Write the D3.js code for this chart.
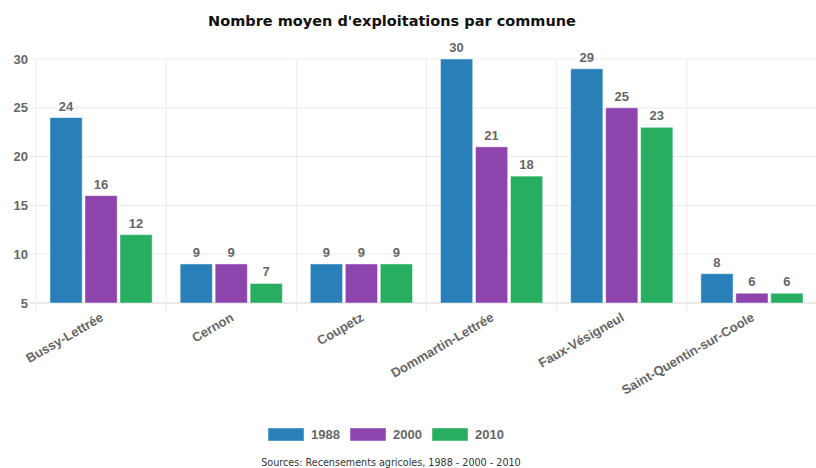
<!DOCTYPE html>
<html>
<head>
<meta charset="utf-8">
<script src="https://cdn.jsdelivr.net/npm/d3@7"></script>
<style>
  html, body { margin: 0; padding: 0; background: #fff; }
  svg { display: block; }
</style>
</head>
<body>
<svg id="chart" width="816" height="468"></svg>
<script>
// Communes shown on the x axis
const communes = ["Bussy-Lettrée", "Cernon", "Coupetz", "Dommartin-Lettrée", "Faux-Vésigneul", "Saint-Quentin-sur-Coole"];
// Census years (one bar per year in each group)
const years = ["1988", "2000", "2010"];
// Average number of farms per commune, per census
const values1988 = [24, 9, 9, 30, 29, 8];
const values2000 = [16, 9, 9, 21, 25, 6];
const values2010 = [12, 7, 9, 18, 23, 6];
const yTicks = [5, 10, 15, 20, 25, 30];
const colors = ["#2980b9", "#8e44ad", "#27ae60"];

const series = [values1988, values2000, values2010];
const rows = communes.map((c, i) => ({ commune: c, vals: series.map(s => s[i]) }));

const svg = d3.select("#chart");
const plotLeft = 36, plotRight = 817, plotTop = 59, plotBottom = 303;

const x = d3.scaleBand().domain(communes).range([plotLeft, plotRight]).paddingInner(0).paddingOuter(0);
const xIn = d3.scaleBand().domain(years).range([14, x.bandwidth() - 14]).paddingInner(0.08);
const y = d3.scaleLinear().domain([5, 30]).range([plotBottom, plotTop]);

const grey = "#666";
const labelFont = "Liberation Sans, Arial, sans-serif";

// Title
svg.append("text")
  .attr("x", 392).attr("y", 26)
  .attr("text-anchor", "middle")
  .attr("font-family", "DejaVu Sans, Verdana, sans-serif")
  .attr("font-weight", "bold")
  .attr("font-size", 14.5)
  .attr("fill", "#111")
  .text("Nombre moyen d'exploitations par commune");

// Horizontal grid lines (with small tick extending left)
svg.append("g").selectAll("line").data(yTicks).join("line")
  .attr("x1", plotLeft - 6).attr("x2", plotRight)
  .attr("y1", d => y(d)).attr("y2", d => y(d))
  .attr("stroke", d => d === 5 ? "#d4d4d4" : "#ececec")
  .attr("stroke-width", 1);

// Vertical grid lines at band boundaries (with small tick below)
const bounds = communes.map(c => x(c)).concat([plotRight]);
svg.append("g").selectAll("line").data(bounds).join("line")
  .attr("x1", d => d).attr("x2", d => d)
  .attr("y1", plotTop).attr("y2", plotBottom + 9)
  .attr("stroke", "#ececec")
  .attr("stroke-width", 1);

// Y axis labels
const yAxis = d3.axisLeft(y).tickValues(yTicks).tickSize(0).tickPadding(8);
const yg = svg.append("g").attr("transform", `translate(${plotLeft},0)`).call(yAxis);
yg.select(".domain").remove();
yg.selectAll("text")
  .attr("font-family", labelFont)
  .attr("font-weight", "bold")
  .attr("font-size", 13)
  .attr("fill", grey);

// Bars
const groups = svg.append("g").selectAll("g").data(rows).join("g")
  .attr("transform", d => `translate(${x(d.commune)},0)`);

groups.selectAll("rect").data(d => d.vals.map((v, i) => ({ v, year: years[i], i }))).join("rect")
  .attr("x", d => xIn(d.year))
  .attr("width", xIn.bandwidth())
  .attr("y", d => y(d.v))
  .attr("height", d => y(5) - y(d.v))
  .attr("fill", d => colors[d.i])
  .attr("stroke", "rgba(255,255,255,0.45)")
  .attr("stroke-width", 1);

// Value labels above bars
groups.selectAll("text").data(d => d.vals.map((v, i) => ({ v, year: years[i], i }))).join("text")
  .attr("x", d => xIn(d.year) + xIn.bandwidth() / 2)
  .attr("y", d => y(d.v) - 7)
  .attr("text-anchor", "middle")
  .attr("font-family", labelFont)
  .attr("font-weight", "bold")
  .attr("font-size", 13)
  .attr("fill", grey)
  .text(d => d.v);

// Category labels, rotated
svg.append("g").selectAll("text").data(communes).join("text")
  .attr("transform", d => `translate(${x(d) + x.bandwidth() / 2 + 1},${plotBottom + 13}) rotate(-30)`)
  .attr("text-anchor", "end")
  .attr("dy", "0.35em")
  .attr("font-family", labelFont)
  .attr("font-weight", "bold")
  .attr("font-size", 13)
  .attr("fill", grey)
  .text(d => d);

// Legend
const legendX = [268, 350, 432];
const lg = svg.append("g").selectAll("g").data(years).join("g")
  .attr("transform", (d, i) => `translate(${legendX[i]},428)`);
lg.append("rect")
  .attr("width", 36).attr("height", 13)
  .attr("fill", (d, i) => colors[i])
  .attr("stroke", "rgba(255,255,255,0.45)");
lg.append("text")
  .attr("x", 43).attr("y", 11)
  .attr("font-family", labelFont)
  .attr("font-weight", "bold")
  .attr("font-size", 13)
  .attr("fill", grey)
  .text(d => d);

// Source note
svg.append("text")
  .attr("x", 391).attr("y", 466)
  .attr("text-anchor", "middle")
  .attr("font-family", "DejaVu Sans, Verdana, sans-serif")
  .attr("font-size", 9.6)
  .attr("fill", "#333")
  .text("Sources: Recensements agricoles, 1988 - 2000 - 2010");
</script>
</body>
</html>
